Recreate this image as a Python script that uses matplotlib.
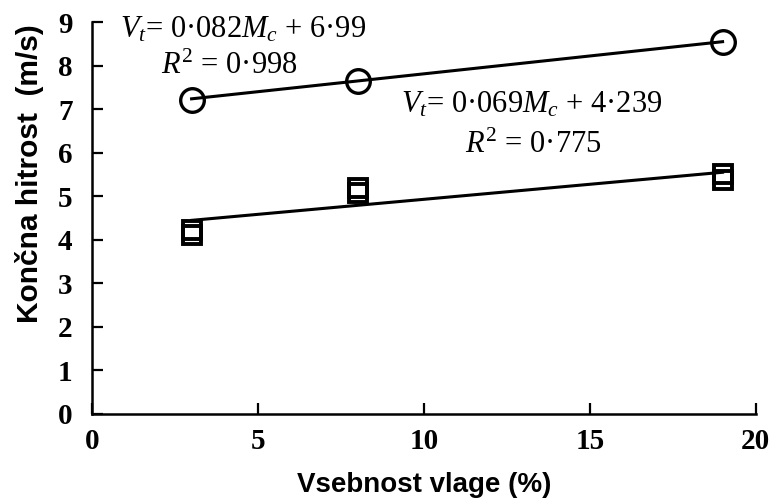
import numpy as np
import matplotlib.pyplot as plt

plt.rcParams['mathtext.fontset'] = 'custom'
plt.rcParams['mathtext.rm'] = 'Liberation Serif'
plt.rcParams['mathtext.it'] = 'Liberation Serif:italic'

# moisture content (%)
moisture = [3, 8, 19]
# terminal velocity, circle series (m/s)
vel_circle = [7.2, 7.65, 8.55]
# terminal velocity, square series - two replicates per point (m/s)
vel_square_a = [4.12, 5.08, 5.38]
vel_square_b = [4.22, 5.2, 5.5]

fit_circle = (0.082, 6.99)
fit_square = (0.069, 4.239)

fig = plt.figure(figsize=(7.7, 5.0), dpi=100)
ax = fig.add_axes([0.1195, 0.172, 0.862, 0.784])

xs = np.array([moisture[0], moisture[-1]])
ax.plot(xs, fit_circle[0] * xs + fit_circle[1], color='black', lw=2.2, zorder=2)
ax.plot(xs, fit_square[0] * xs + fit_square[1], color='black', lw=2.2, zorder=2)

ax.plot(moisture, vel_circle, 'o', ms=17, mfc='none', mec='black', mew=2.4, zorder=3)
ax.plot(moisture, vel_square_a, 's', ms=13.5, mfc='none', mec='black', mew=2.8, zorder=3)
ax.plot(moisture, vel_square_b, 's', ms=13.5, mfc='none', mec='black', mew=2.8, zorder=3)

ax.set_xlim(0, 20)
ax.set_ylim(0, 9)
ax.set_xticks([0, 5, 10, 15, 20])
ax.set_yticks(range(10))
for s in ['top', 'right']:
    ax.spines[s].set_visible(False)
for s in ['left', 'bottom']:
    ax.spines[s].set_linewidth(1.8)
ax.tick_params(direction='in', length=8, width=1.6)
ax.tick_params(axis='y', pad=14)
ax.tick_params(axis='x', pad=10)
for lab in ax.get_xticklabels() + ax.get_yticklabels():
    lab.set_family('Liberation Serif')
    lab.set_fontweight('bold')
    lab.set_fontsize(21)

ax.set_xlabel('Vsebnost vlage (%)', family='Liberation Sans', fontweight='bold',
              fontsize=20, labelpad=12)
ax.set_ylabel('Končna hitrost  (m/s)', family='Liberation Sans', fontweight='bold',
              fontsize=21.5)
ax.yaxis.set_label_coords(-0.072, 0.614)

eq_kw = dict(family='Liberation Serif', fontsize=22, color='black')
ax.text(0.84, 8.83, r'$V_t$= 0·082$M_c$ + 6·99', ha='left', va='center', **eq_kw)
ax.text(4.15, 7.98, r'$R^2$ = 0·998', ha='center', va='center', **eq_kw)
ax.text(9.3, 7.1, r'$V_t$= 0·069$M_c$ + 4·239', ha='left', va='center', **eq_kw)
ax.text(13.3, 6.17, r'$R^2$ = 0·775', ha='center', va='center', **eq_kw)

fig.savefig('out.png', dpi=100)
